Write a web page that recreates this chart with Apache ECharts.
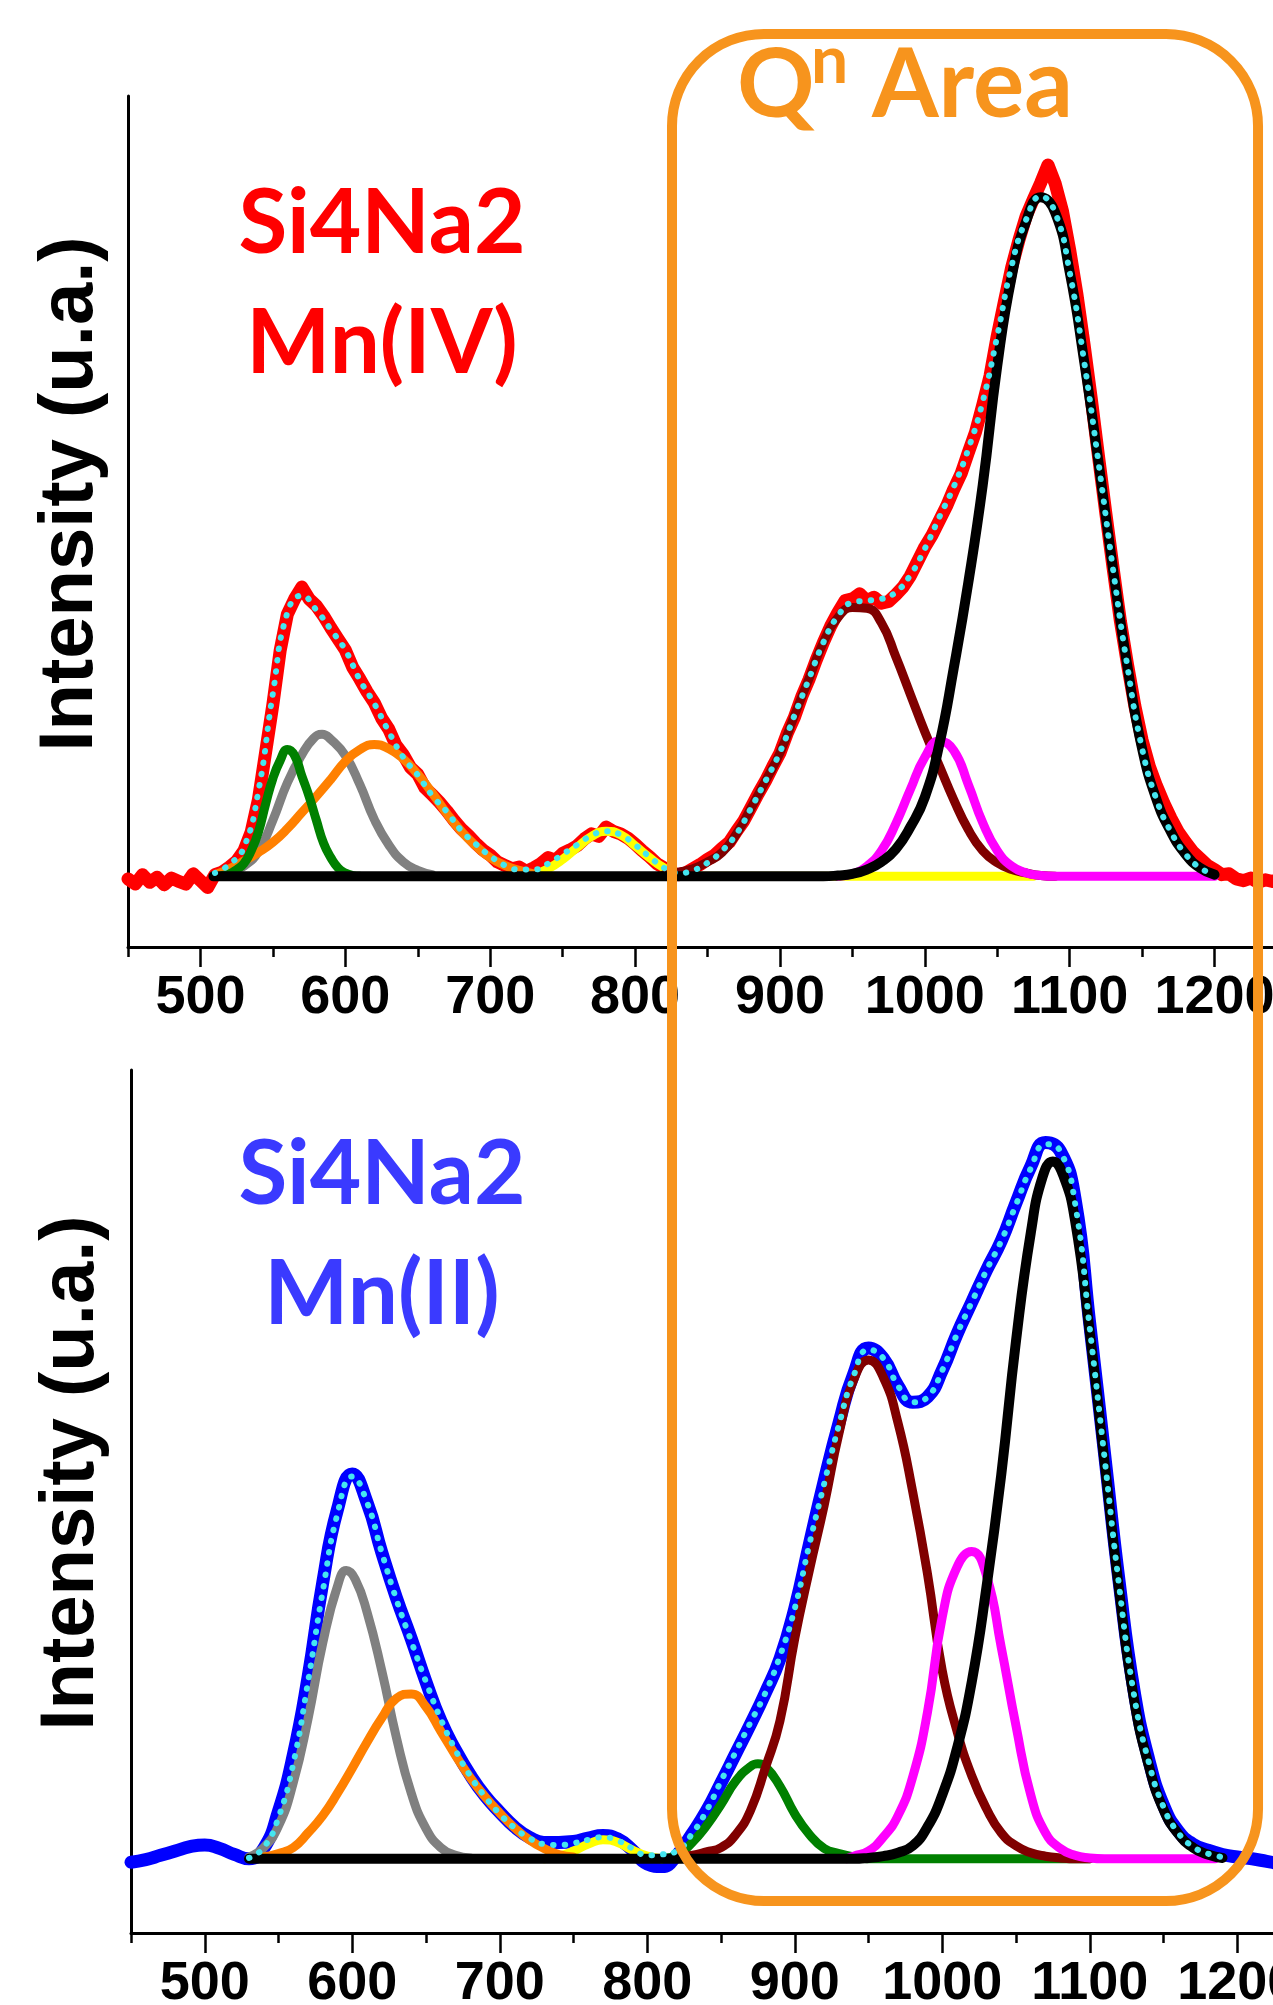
<!DOCTYPE html>
<html>
<head>
<meta charset="utf-8">
<script src="https://cdn.jsdelivr.net/npm/echarts@6/dist/echarts.min.js"></script>
<style>
html,body{margin:0;padding:0;background:#ffffff;}
#chart{width:1273px;height:2005px;}
</style>
</head>
<body>
<div id="chart"></div>
<script>
// Raman shift axis ticks (cm-1)
const majorTicks = [500, 600, 700, 800, 900, 1000, 1100, 1200];
const minorTicks = [450, 550, 650, 750, 850, 950, 1050, 1150, 1250];

// Q^n band window, in Raman shift units of the upper panel
const qnWindow = [825.5, 1230];

// sampling grids
function range(a, b, s) { const r = []; for (let x = a; x <= b + 1e-9; x += s) r.push(Math.round(x * 10) / 10); return r; }

// ===== Si4Na2 Mn(IV) =====
const mn4SpectrumX = range(450, 1250, 5);
const mn4SpectrumY = [
  -0.3,-0.9,0.2,-0.7,-0.1,-1.0,-0.2,-0.6,-0.9,0.3,
  -0.5,-1.3,0.2,0.5,1.1,1.8,3.0,5.2,9.0,14.6,
  20.2,26.5,30.8,32.6,34.0,32.6,31.8,30.6,29.2,27.9,
  26.6,24.6,23.2,21.7,20.4,18.6,17.3,15.4,14.3,12.8,
  12.0,10.4,9.6,8.7,7.7,6.6,5.6,4.8,3.9,3.1,
  2.5,1.7,1.3,0.9,1.1,0.6,1.0,1.5,2.2,1.9,
  2.7,3.1,3.6,4.4,5.0,4.7,5.8,5.3,5.0,4.5,
  3.8,3.0,2.3,1.5,1.0,0.4,0.2,0.4,0.9,1.4,
  2.0,2.5,3.3,4.0,5.3,6.5,8.1,9.7,11.2,12.9,
  14.5,16.8,18.7,21.1,23.1,25.4,27.5,29.4,31.0,32.4,
  32.6,33.2,32.4,32.8,32.1,32.3,33.1,34.0,35.3,37.0,
  38.7,40.1,41.8,43.5,45.5,47.3,49.8,52.2,55.4,58.8,
  63.5,67.6,71.6,74.8,77.6,79.6,81.5,83.6,81.4,78.2,
  73.6,68.4,62.4,56.0,49.2,42.6,36.2,30.0,24.8,20.0,
  16.0,12.9,10.6,8.6,6.8,5.2,4.0,2.9,2.1,1.3,
  0.8,0.2,0.3,-0.3,-0.5,-0.2,-0.7,-0.4,-0.6,-0.3,
  -0.5
];
const mn4FitX = range(510, 1200, 10);
const mn4FitY = [
  0.4,1.4,3.4,10.0,21.5,31.0,33.0,31.3,29.0,26.6,
  23.1,20.3,17.0,14.0,11.9,9.5,7.6,5.4,3.8,2.4,
  1.3,0.8,0.8,1.5,2.6,3.7,4.8,5.3,4.9,3.7,
  2.3,1.0,0.4,0.7,1.6,3.0,5.0,8.0,11.2,14.6,
  18.9,23.2,27.5,30.6,32.2,32.4,32.6,33.4,35.4,38.5,
  42.2,45.8,50.2,55.8,63.5,71.8,77.2,79.9,78.0,71.0,
  60.5,48.5,36.0,24.5,15.0,9.0,5.2,2.6,1.0,0.2
];
const mn4GreenX = [515,520,525,530,535,540,545,550,555,560,565,570,575,580,585,590,595,600,605,610];
const mn4GreenY = [0.1,0.3,0.8,1.5,3.0,5.2,8.5,11.5,13.6,14.9,14.2,11.8,9.4,6.6,3.9,2.2,1.0,0.4,0.1,0.0];
const mn4GrayX = [520,530,540,550,560,570,578,584,590,600,610,620,630,640,650,660];
const mn4GrayY = [0.3,1.2,2.9,6.6,11.0,14.3,16.2,16.7,16.1,14.2,10.8,6.7,3.7,1.7,0.7,0.2];
const mn4OrangeX = range(510, 730, 10);
const mn4OrangeY = [0.2,0.9,1.8,2.8,4.0,5.6,7.5,9.4,11.4,13.5,14.9,15.5,15.0,13.8,12.0,9.8,7.4,5.3,3.6,2.2,1.3,0.7,0.3];
const mn4YellowX = [720,730,740,750,760,770,780,790,800,810,820,830,840,850,860,1075];
const mn4YellowY = [0,0.2,0.9,2.0,3.4,4.7,5.3,4.9,3.6,2.2,1.0,0.3,0.1,0,0,0];
const mn4BrownX = range(820, 1090, 10);
const mn4BrownY = [0.2,0.5,0.9,1.7,2.8,5.0,8.0,11.2,14.5,18.9,23.2,27.5,30.4,31.6,31.5,29.8,25.8,21.4,17.0,13.0,9.0,5.5,3.0,1.6,0.8,0.4,0.1,0.0];
const mn4MagentaX = [940,950,960,970,980,990,1000,1010,1020,1030,1040,1050,1060,1070,1080,1090,1100,1200];
const mn4MagentaY = [0,0.3,1.2,3.0,6.2,10.2,14.0,15.9,14.8,10.8,6.3,3.0,1.2,0.4,0.1,0,0,0];
const mn4BlackX = [509,920,930,940].concat(range(950, 1200, 10));
const mn4BlackY = [0,0,0,0.1,0.3,0.8,1.7,3.2,5.8,9.3,15.5,24.5,34.5,46.0,60.0,70.5,77.0,79.8,78.0,71.0,60.5,48.5,36.0,24.5,15.0,9.0,5.2,2.6,1.0,0.2];

// ===== Si4Na2 Mn(II) =====
const mn2SpectrumX = range(450, 1250, 10);
const mn2SpectrumY = [
  -0.4,-0.1,0.4,0.9,1.4,1.6,1.2,0.5,0.0,1.2,
  5.5,12.0,21.0,32.0,40.5,44.6,41.3,35.5,30.2,25.5,
  20.5,16.0,12.6,9.7,7.3,5.4,3.7,2.5,1.9,1.9,
  2.0,2.4,2.7,2.3,1.0,-0.6,-0.9,0.4,2.8,5.5,
  8.8,12.2,15.6,19.2,23.2,29.0,36.5,43.8,50.5,56.2,
  59.2,58.0,54.8,52.9,53.5,56.6,60.8,64.5,68.2,71.6,
  76.0,80.2,83.0,82.0,76.5,62.0,47.0,32.0,19.5,11.5,
  6.2,3.2,1.7,1.0,0.5,0.2,0.0,-0.3,-0.6,-0.8,
  -0.8
];
const mn2FitX = range(530, 1190, 10);
const mn2FitY = [
  0.1,1.3,4.8,11.0,20.5,31.0,40.0,44.3,41.3,35.5,
  30.0,25.2,20.5,16.2,12.6,9.6,7.2,5.2,3.6,2.4,
  1.7,1.6,1.8,2.2,2.5,2.1,1.2,0.4,0.5,0.9,
  2.8,5.5,9.0,12.4,15.8,19.2,23.5,29.0,36.5,43.5,
  50.3,56.0,59.0,58.0,54.8,52.9,53.5,56.6,60.8,64.5,
  68.2,71.6,75.8,80.0,82.8,82.0,76.0,61.5,46.5,31.5,
  19.0,11.2,6.0,3.0,1.4,0.6,0.2
];
const mn2GrayX = [530,540,550,560,570,580,590,596,602,610,620,630,640,650,660,670,680];
const mn2GrayY = [0.2,1.3,3.8,8.8,16.2,25.0,31.6,33.4,32.4,28.6,21.8,14.0,7.6,3.5,1.3,0.4,0.1];
const mn2OrangeX = range(540, 750, 10);
const mn2OrangeY = [0.2,0.6,1.3,3.0,5.0,7.6,10.5,13.5,16.3,18.6,19.1,17.6,14.8,12.0,9.4,7.2,5.3,3.6,2.2,1.2,0.5,0.2];
const mn2YellowX = [730,740,750,760,770,780,790,800,810];
const mn2YellowY = [0,0.3,0.9,1.7,2.2,1.9,1.0,0.3,0];
const mn2GreenX = [810,820,830,840,850,860,870,875,880,890,900,910,920,930,940,950,960,1100];
const mn2GreenY = [0,0.4,1.8,3.8,6.3,9.0,10.7,11.0,10.7,8.4,5.2,2.8,1.2,0.6,0.2,0,0,0];
const mn2BrownX = range(820, 1100, 10);
const mn2BrownY = [0.2,0.4,0.8,1.3,2.8,5.6,10.5,16.0,25.5,33.5,41.0,49.3,55.5,57.8,55.8,50.5,42.5,33.0,21.8,14.8,9.6,5.8,3.0,1.5,0.7,0.3,0.1,0,0];
const mn2MagentaX = [935,940,950,960,970,980,990,1000,1010,1020,1030,1040,1050,1060,1070,1080,1090,1100,1110,1185];
const mn2MagentaY = [0,0.3,0.9,2.5,5.0,9.5,17.0,28.0,33.8,35.6,32.8,24.5,15.4,7.4,3.0,1.2,0.4,0.1,0,0];
const mn2BlackX = [530,930,940,950,960,970,980,990,1000,1010,1020,1030,1040,1050,1060,1068,1075,1082,1090,1100,1110,1120,1130,1140,1150,1160,1170,1180,1190];
const mn2BlackY = [0,0,0,0.1,0.3,0.7,1.5,3.7,7.4,12.8,20.5,31.5,44.5,60.0,72.5,79.0,80.8,79.2,74.0,61.0,46.0,31.0,18.5,10.8,5.7,2.9,1.3,0.5,0.1];

// ---------- chart ----------
const chart = echarts.init(document.getElementById('chart'), null, {renderer: 'canvas'});
const pairs = (xs, ys) => xs.map((x, i) => [x, ys[i]]);
const tickFont = '"Liberation Sans", Arial, sans-serif';

function majorAxis(g) {
  return {
    type: 'value', gridIndex: g, min: 450, max: 1250, position: 'bottom',
    axisLine: {show: true, onZero: false, lineStyle: {color: '#000', width: 3}},
    axisTick: {show: true, inside: false, length: 20, customValues: majorTicks, lineStyle: {color: '#000', width: 2.5}},
    axisLabel: {show: true, customValues: majorTicks, margin: 24, color: '#000', fontSize: 54, fontWeight: 'bold',
      fontFamily: tickFont, formatter: v => String(v)},
    splitLine: {show: false}, minorTick: {show: false}, minorSplitLine: {show: false}
  };
}
function minorAxis(g) {
  return {
    type: 'value', gridIndex: g, min: 450, max: 1250, position: 'bottom', offset: 0,
    axisLine: {show: false, onZero: false},
    axisTick: {show: true, inside: false, length: 10, customValues: minorTicks, lineStyle: {color: '#000', width: 2.5}},
    axisLabel: {show: false}, splitLine: {show: false}
  };
}
function intensityAxis(g, min, max) {
  return {
    type: 'value', gridIndex: g, min: min, max: max,
    axisLine: {show: true, onZero: false, lineStyle: {color: '#000', width: 3}},
    axisTick: {show: false}, axisLabel: {show: false}, splitLine: {show: false}
  };
}
function curve(g, xs, ys, color, width, z) {
  return {
    type: 'line', xAxisIndex: g * 2, yAxisIndex: g, data: pairs(xs, ys),
    symbol: 'none', showSymbol: false, smooth: 0.5, silent: true, z: z,
    lineStyle: {color: color, width: width, cap: 'round', join: 'round'}
  };
}
function spectrum(g, xs, ys, color, smooth, width) {
  return {
    type: 'line', xAxisIndex: g * 2, yAxisIndex: g, data: pairs(xs, ys),
    symbol: 'none', showSymbol: false, smooth: smooth, silent: true, z: 1,
    lineStyle: {color: color, width: width, cap: 'round', join: 'round'}
  };
}
function fitLine(g, xs, ys) {
  return {
    type: 'line', xAxisIndex: g * 2, yAxisIndex: g, data: pairs(xs, ys),
    symbol: 'none', showSymbol: false, smooth: 0.5, silent: true, z: 9,
    lineStyle: {color: '#45e6f0', width: 6, type: [0.5, 11], cap: 'round'}
  };
}

const C = {green: '#008000', gray: '#808080', orange: '#FF8000', yellow: '#FFFF00',
           brown: '#800000', magenta: '#FF00FF', black: '#000000'};

const option = {
  animation: false,
  backgroundColor: '#ffffff',
  grid: [
    {left: 128, top: 96, width: 1159, height: 851, containLabel: false, outerBoundsMode: 'none'},
    {left: 131, top: 1070, width: 1180, height: 863, containLabel: false, outerBoundsMode: 'none'}
  ],
  xAxis: [majorAxis(0), minorAxis(0), majorAxis(1), minorAxis(1)],
  yAxis: [intensityAxis(0, -8.3, 91.7), intensityAxis(1, -8.6, 91.4)],
  series: [
    spectrum(0, mn4SpectrumX, mn4SpectrumY, '#FF0000', false, 13),
    curve(0, mn4YellowX, mn4YellowY, C.yellow, 9, 2),
    curve(0, mn4GrayX, mn4GrayY, C.gray, 9, 3),
    curve(0, mn4OrangeX, mn4OrangeY, C.orange, 9, 4),
    curve(0, mn4GreenX, mn4GreenY, C.green, 9, 5),
    curve(0, mn4BrownX, mn4BrownY, C.brown, 9, 6),
    curve(0, mn4MagentaX, mn4MagentaY, C.magenta, 9, 7),
    curve(0, mn4BlackX, mn4BlackY, C.black, 10, 8),
    fitLine(0, mn4FitX, mn4FitY),

    spectrum(1, mn2SpectrumX, mn2SpectrumY, '#0000FF', 0.5, 13),
    curve(1, mn2YellowX, mn2YellowY, C.yellow, 9, 2),
    curve(1, mn2GrayX, mn2GrayY, C.gray, 9, 3),
    curve(1, mn2OrangeX, mn2OrangeY, C.orange, 9, 4),
    curve(1, mn2GreenX, mn2GreenY, C.green, 9, 5),
    curve(1, mn2BrownX, mn2BrownY, C.brown, 9, 6),
    curve(1, mn2MagentaX, mn2MagentaY, C.magenta, 9, 7),
    curve(1, mn2BlackX, mn2BlackY, C.black, 10, 8),
    fitLine(1, mn2FitX, mn2FitY)
  ]
};
chart.setOption(option);

// annotations: axis titles, sample labels and the Q^n window
const labelFont = 'Lato, "Open Sans", sans-serif';
function txt(text, x, y, font, fill, align, rotation) {
  return {
    type: 'text', x: x, y: y, rotation: rotation || 0, z: 20, silent: true,
    style: {text: text, font: font, fill: fill, align: align, textAlign: align,
            verticalAlign: 'middle', textVerticalAlign: 'middle'}
  };
}
const boxLeft = chart.convertToPixel({xAxisIndex: 0}, qnWindow[0]);
const boxRight = chart.convertToPixel({xAxisIndex: 0}, qnWindow[1]);
const boxTop = 34, boxBottom = 1901;

chart.setOption({
  graphic: [
    txt('Intensity (u.a.)', 71, 494, 'bold 76px "Liberation Sans", Arial, sans-serif', '#000', 'center', Math.PI / 2),
    txt('Intensity (u.a.)', 72, 1473, 'bold 76px "Liberation Sans", Arial, sans-serif', '#000', 'center', Math.PI / 2),
    txt('Si4Na2', 382, 224, 'bold 89px ' + labelFont, '#FF0000', 'center'),
    txt('Mn(IV)', 382, 344, 'bold 89px ' + labelFont, '#FF0000', 'center'),
    txt('Si4Na2', 382, 1175, 'bold 89px ' + labelFont, '#3A3AFF', 'center'),
    txt('Mn(II)', 382, 1295, 'bold 89px ' + labelFont, '#3A3AFF', 'center'),
    txt('Q', 737, 86, 'bold 96px ' + labelFont, '#F7941D', 'left'),
    txt('n', 811, 62, 'bold 66px ' + labelFont, '#F7941D', 'left'),
    txt('Area', 872, 86, 'bold 96px ' + labelFont, '#F7941D', 'left'),
    {
      type: 'rect', z: 30, silent: true,
      shape: {x: boxLeft, y: boxTop, width: boxRight - boxLeft, height: boxBottom - boxTop, r: 92},
      style: {fill: 'none', stroke: '#F7941D', lineWidth: 10}
    }
  ]
});
</script>
</body>
</html>
